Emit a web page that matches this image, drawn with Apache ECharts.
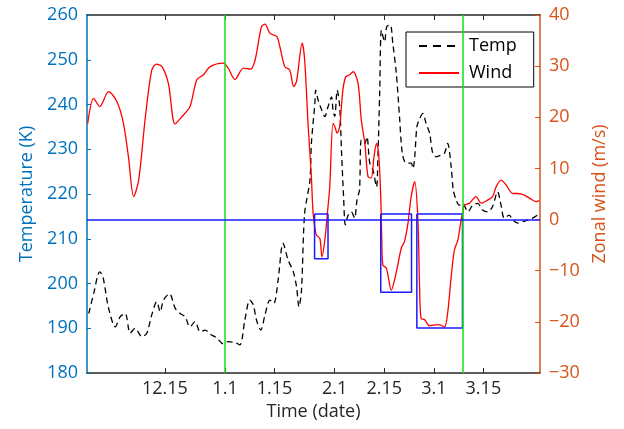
<!DOCTYPE html>
<html>
<head>
<meta charset="utf-8">
<script src="https://cdn.jsdelivr.net/npm/echarts@6/dist/echarts.min.js"></script>
<style>
  html, body { margin: 0; padding: 0; background: #fff; }
  #main { width: 624px; height: 429px; }
</style>
</head>
<body>
<div id="main"></div>
<script>
// days counted from 1 Jan (negative = December / November)
var tickDays = [-17, 0, 14, 31, 45, 59, 73];
var tickLabels = ['12.15', '1.1', '1.15', '2.1', '2.15', '3.1', '3.15'];

var tempDay = [-38.5, -37.1, -35.4, -34.5, -32.9, -31.0, -29.6, -28.2, -26.8, -25.4, -23.5, -22.1, -20.7, -19.3, -18.3, -17.4, -15.7, -14.1, -12.7, -11.3,
  -9.9, -8.5, -7.0, -5.6, -4.2, -2.3, -0.5, 0.9, 2.8, 4.2, 5.6, 7.0, 8.0, 8.9, 10.1, 11.3, 12.7, 13.8, 15.0, 16.4,
  17.8, 19.3, 20.2, 20.9, 21.6, 22.5, 24.0, 24.4, 25.4, 25.6, 26.3, 27.3, 28.2, 29.1, 30.1, 30.5, 31.0, 31.7, 32.4, 32.9,
  33.5, 34.0, 34.8, 35.7, 36.6, 37.3, 38.0, 38.5, 39.5, 40.1, 40.9, 41.8, 42.8, 43.2, 43.7, 44.2, 45.1, 45.7, 46.7, 47.4,
  48.4, 49.3, 50.1, 51.2, 52.6, 53.1, 53.6, 54.2, 54.8, 55.9, 56.8, 57.8, 58.7, 59.7, 61.1, 62.0, 62.9, 63.9, 64.5, 65.3,
  66.2, 67.2, 68.6, 70.0, 71.4, 72.8, 74.2, 75.6, 77.0, 78.0, 78.9, 80.3, 81.3, 82.7, 84.1, 85.5, 86.9, 88.3];
var tempK = [193.3, 197.8, 202.6, 201.5, 194.5, 190.3, 192.6, 193.3, 188.9, 190.0, 188.1, 188.9, 193.0, 195.9, 193.7, 196.3, 197.7, 194.5, 193.3, 192.6,
  190.3, 191.5, 189.2, 189.6, 188.7, 187.8, 186.5, 187.0, 186.8, 186.3, 191.8, 196.3, 195.2, 191.8, 189.6, 193.0, 196.3, 195.6, 200.8, 209.0,
  205.3, 202.6, 199.3, 194.8, 198.5, 215.7, 223.1, 231.3, 240.3, 243.2, 241.0, 238.8, 237.3, 239.5, 241.7, 238.8, 237.3, 243.2, 239.5, 229.8,
  219.4, 213.1, 215.3, 216.0, 214.6, 218.7, 220.9, 232.1, 231.3, 232.8, 226.9, 225.4, 221.6, 228.3, 242.5, 256.6, 254.0, 257.4, 257.8, 253.7,
  247.0, 237.3, 229.1, 226.9, 226.9, 225.7, 228.3, 235.0, 236.5, 238.0, 235.8, 233.6, 229.1, 228.3, 228.7, 229.1, 231.3, 226.1, 220.9, 218.7,
  217.5, 217.9, 216.0, 217.5, 217.9, 216.4, 216.0, 217.2, 220.5, 217.5, 214.6, 215.3, 214.2, 213.5, 213.8, 214.2, 214.6, 215.3];

var windDay = [-38.8, -37.1, -35.4, -32.9, -30.5, -28.7, -27.3, -25.8, -24.4, -22.5, -20.7, -19.4, -17.8, -16.0, -14.1, -12.2, -9.9, -8.0, -6.1, -4.2,
  -0.5, 0.9, 2.8, 5.2, 7.2, 8.5, 10.3, 11.3, 12.7, 14.6, 15.5, 16.9, 18.3, 19.4, 20.2, 21.8, 22.5, 23.5, 24.4, 24.9,
  25.8, 26.8, 27.4, 28.2, 29.1, 29.6, 30.5, 31.0, 31.7, 32.4, 33.3, 34.1, 35.2, 36.2, 37.6, 38.5, 39.5, 40.4, 41.3, 42.1,
  42.8, 43.4, 44.0, 44.3, 44.6, 45.6, 47.0, 47.9, 48.8, 49.8, 50.7, 51.7, 52.6, 53.6, 54.5, 55.0, 55.4, 56.4, 57.8, 59.2,
  60.6, 62.0, 62.9, 63.9, 64.8, 65.8, 66.7, 67.2, 67.6, 69.1, 70.9, 72.4, 74.2, 75.6, 76.6, 78.0, 79.4, 81.3, 82.7, 84.6,
  86.0, 87.9, 88.8];
var windMs = [18.8, 23.7, 22.1, 25.0, 23.0, 18.8, 12.3, 4.5, 7.7, 20.1, 29.2, 30.4, 29.9, 26.6, 18.7, 20.1, 22.1, 27.3, 28.3, 29.9,
  30.6, 29.6, 27.4, 29.6, 29.4, 31.2, 37.7, 38.2, 36.4, 35.8, 33.8, 29.9, 29.2, 26.0, 27.0, 34.5, 31.2, 18.2, 8.4, 1.2,
  -3.0, -3.7, -7.3, -4.0, 2.5, 6.5, 18.8, 18.2, 16.9, 18.2, 25.3, 27.9, 28.3, 28.9, 26.6, 19.5, 14.9, 8.4, 8.1, 12.3,
  14.9, 13.0, 4.5, -4.0, -8.9, -9.5, -13.8, -11.8, -8.9, -5.6, -4.3, -0.7, 4.5, 7.4, -0.1, -13.8, -19.3, -19.6, -20.8, -20.6,
  -20.6, -21.0, -18.3, -11.2, -6.0, -4.0, -0.1, 1.2, 2.8, 3.2, 4.5, 3.2, 3.8, 4.5, 6.4, 7.7, 6.8, 5.1, 5.1, 4.8,
  4.2, 3.5, 3.7];

// blue boxes (wind axis)
var boxStart = [25.3, 44.0, 54.2];
var boxEnd = [29.1, 52.7, 67.1];
var boxTop = [1.1, 1.1, 1.1];
var boxBottom = [-7.65, -14.2, -21.2];

var greenDays = [0, 67.1];

var BLUE_AX = '#0072BD';
var ORANGE_AX = '#D95319';
var FONT = 'Open Sans';

function pairs(xs, ys) {
  return xs.map(function (x, i) { return [x, ys[i]]; });
}

var boxSeries = boxStart.map(function (x1, i) {
  var x2 = boxEnd[i], t = boxTop[i], b = boxBottom[i];
  return {
    type: 'line',
    yAxisIndex: 1,
    symbol: 'none',
    silent: true,
    z: 4,
    lineStyle: { color: '#1a1aff', width: 1.5 },
    data: [[x1, t], [x2, t], [x2, b], [x1, b], [x1, t]]
  };
});

var chart = echarts.init(document.getElementById('main'));
chart.setOption({
  animation: false,
  backgroundColor: '#fff',
  grid: { left: 87, right: 84, top: 15, bottom: 56 },
  legend: {
    left: 406, top: 32,
    orient: 'vertical',
    padding: [4, 17, 4, 12],
    itemGap: 7,
    itemWidth: 40,
    itemHeight: 14,
    borderColor: '#000',
    borderWidth: 1,
    backgroundColor: '#fff',
    itemStyle: { opacity: 0 },
    textStyle: { fontFamily: FONT, fontSize: 18, color: '#000', lineHeight: 20, padding: [0, 0, 0, 5] },
    data: [
      { name: 'Temp', lineStyle: { type: [8, 6] } },
      { name: 'Wind' }
    ]
  },
  xAxis: [{
    type: 'value',
    min: -39, max: 89,
    name: 'Time (date)',
    nameLocation: 'middle',
    nameGap: 27,
    nameTextStyle: { fontFamily: FONT, fontSize: 18, color: '#262626' },
    axisLine: { onZero: false, lineStyle: { color: '#262626', width: 1.5 } },
    axisTick: { inside: true, length: 5, customValues: tickDays, lineStyle: { color: '#262626' } },
    axisLabel: {
      customValues: tickDays,
      fontFamily: FONT, fontSize: 18, color: '#262626', margin: 7,
      formatter: function (v) { var i = tickDays.indexOf(v); return i >= 0 ? tickLabels[i] : ''; }
    },
    splitLine: { show: false }
  }, {
    type: 'value',
    position: 'top',
    min: -39, max: 89,
    axisLine: { onZero: false, lineStyle: { color: '#262626', width: 1.5 } },
    axisTick: { inside: true, length: 5, customValues: tickDays, lineStyle: { color: '#262626' } },
    axisLabel: { show: false },
    splitLine: { show: false }
  }],
  yAxis: [{
    type: 'value',
    min: 180, max: 260, interval: 10,
    name: 'Temperature (K)',
    nameLocation: 'middle',
    nameRotate: 90,
    nameGap: 50,
    nameTextStyle: { fontFamily: FONT, fontSize: 18, color: BLUE_AX },
    axisLine: { show: true, onZero: false, lineStyle: { color: BLUE_AX, width: 1.5 } },
    axisTick: { show: true, inside: true, length: 4, lineStyle: { color: BLUE_AX } },
    axisLabel: { fontFamily: FONT, fontSize: 18, color: BLUE_AX, margin: 9 },
    splitLine: { show: false }
  }, {
    type: 'value',
    position: 'right',
    min: -30, max: 40, interval: 10,
    name: 'Zonal wind (m/s)',
    nameLocation: 'middle',
    nameRotate: 90,
    nameGap: 50,
    nameTextStyle: { fontFamily: FONT, fontSize: 18, color: ORANGE_AX },
    axisLine: { show: true, onZero: false, lineStyle: { color: ORANGE_AX, width: 1.5 } },
    axisTick: { show: true, inside: true, length: 5, lineStyle: { color: ORANGE_AX } },
    axisLabel: {
      fontFamily: FONT, fontSize: 18, color: ORANGE_AX, margin: 9,
      formatter: function (v) { return String(v).replace('-', '\u2212'); }
    },
    splitLine: { show: false }
  }],
  series: [{
    name: 'Temp',
    type: 'line',
    yAxisIndex: 0,
    symbol: 'none',
    smooth: 0.3,
    z: 3,
    lineStyle: { color: '#000', width: 1.3, type: [6, 4] },
    itemStyle: { color: '#000' },
    data: pairs(tempDay, tempK),
    markLine: {
      silent: true,
      symbol: 'none',
      label: { show: false },
      lineStyle: { color: '#11e011', width: 1.5, type: 'solid' },
      data: greenDays.map(function (d) { return { xAxis: d }; })
    }
  }, {
    name: 'Wind',
    type: 'line',
    yAxisIndex: 1,
    symbol: 'none',
    smooth: 0.3,
    z: 3,
    lineStyle: { color: '#ff0000', width: 1.3 },
    itemStyle: { color: '#ff0000' },
    data: pairs(windDay, windMs),
    markLine: {
      silent: true,
      symbol: 'none',
      label: { show: false },
      lineStyle: { color: '#1a1aff', width: 1.5, type: 'solid' },
      data: [{ yAxis: 0 }]
    }
  }].concat(boxSeries)
});
</script>
</body>
</html>
